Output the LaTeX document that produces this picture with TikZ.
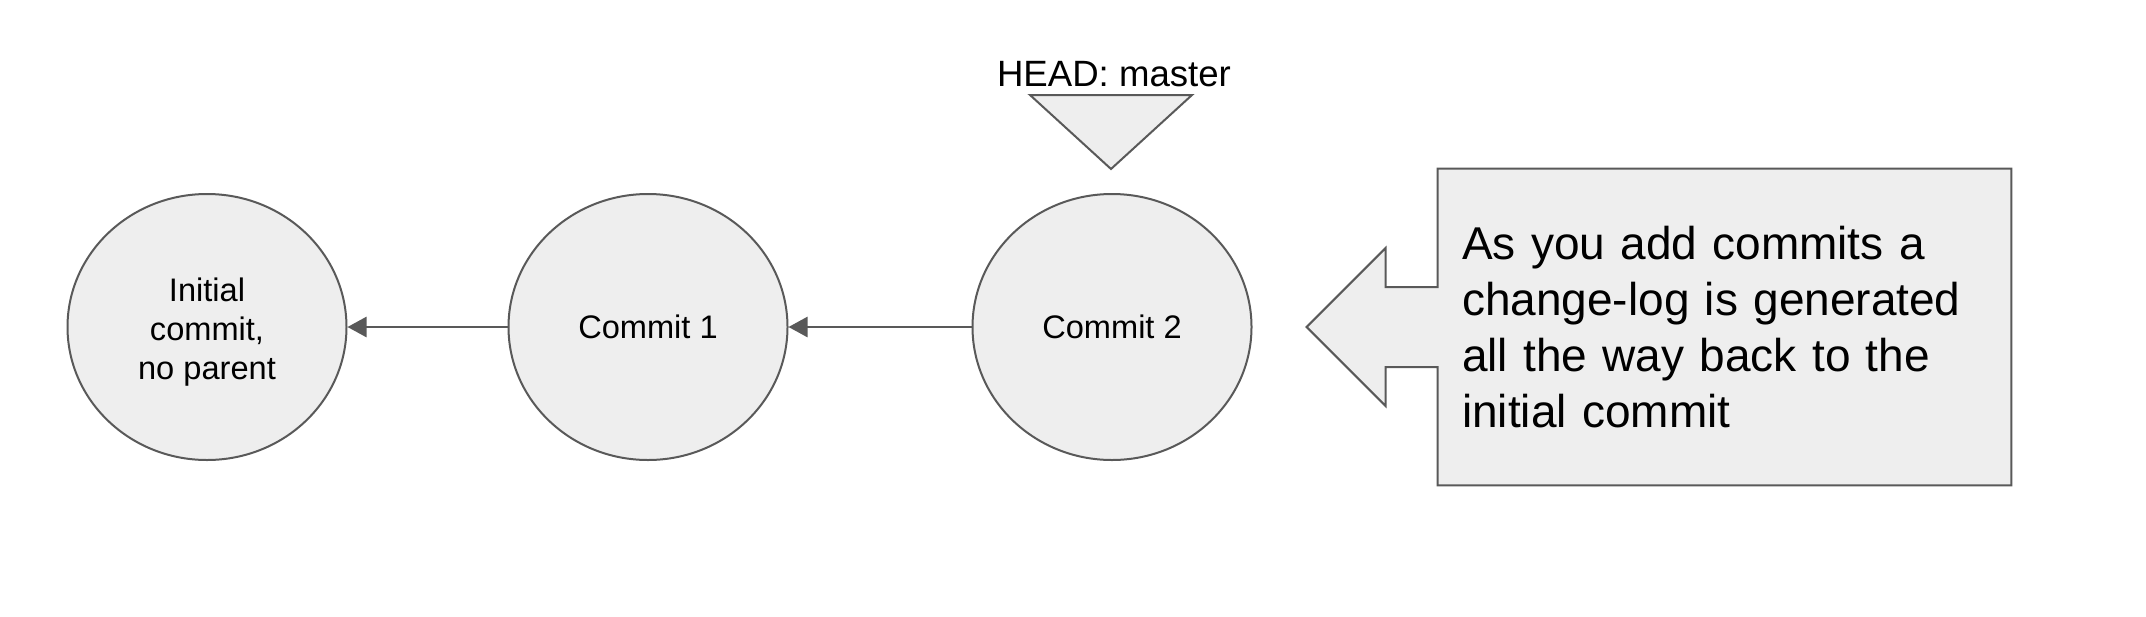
\documentclass[tikz,border=0pt]{standalone}
\usepackage{fontspec}
\setmainfont{Liberation Sans}
\usetikzlibrary{positioning,shapes.geometric,backgrounds,calc,arrows.meta}
\usepackage{xcolor}
\definecolor{nodegray}{RGB}{238,238,238}
\definecolor{linegray}{RGB}{89,89,89}

\begin{document}
\begin{tikzpicture}[
    x=0.5pt, y=-0.5pt,
    commit/.style={ellipse, draw=linegray, fill=nodegray, line width=1pt,
                   minimum width=139.5pt, minimum height=133pt, inner sep=0pt,
                   align=center, font=\fontsize{16.3pt}{19.5pt}\selectfont},
    parentarrow/.style={-{Triangle[length=9.5pt,width=10pt]}, line width=1.3pt, draw=linegray},
    pointer/.style={draw=linegray, fill=nodegray, line width=1pt},
    headlabel/.style={inner sep=0pt, font=\fontsize{18.3pt}{21pt}\selectfont},
    note/.style={rectangle, minimum width=286.5pt, minimum height=158pt,
                 text width=262.5pt, inner xsep=12pt, align=left,
                 font=\fontsize{23pt}{28pt}\selectfont}
]

\useasboundingbox (0,0) rectangle (2146,616);

\node[commit] (c0) at (207,327) {\rule{0pt}{17pt}Initial\\commit,\\no parent};
\node[commit, right=80pt of c0] (c1) {Commit 1};
\node[commit, right=91.5pt of c1] (c2) {Commit 2};

\draw[parentarrow] (c1) -- (c0);
\draw[parentarrow] (c2) -- (c1);

% HEAD marker
\node[headlabel] (head) at (1114,74) {HEAD: master};
\draw[pointer] ($(c2.north)+(-1,-24)$) -- ++(-81,-74) -- ++(162,0) -- cycle;

% change-log callout
\node[note] (note) at (1724.5,327) {As you add commits a\\change-log is generated\\all the way back to the\\initial commit};

\begin{scope}[on background layer]
\draw[pointer] (note.north west) -- (note.north east) -- (note.south east) -- (note.south west)
    -- ($(note.west)+(0,40)$) -- ++(-52,0) -- ++(0,39) -- ($(note.west)+(-131,0)$)
    -- ($(note.west)+(-52,-79)$) -- ++(0,39) -- ($(note.west)+(0,-40)$) -- cycle;
\end{scope}

\end{tikzpicture}
\end{document}
